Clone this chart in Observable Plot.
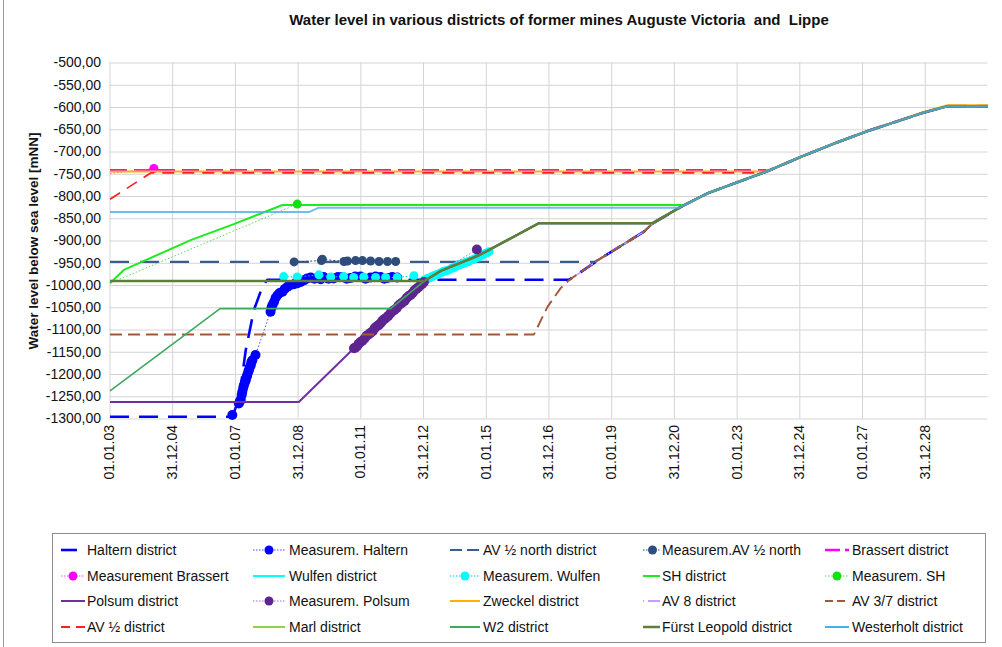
<!DOCTYPE html>
<html>
<head>
<meta charset="utf-8">
<script src="https://cdn.jsdelivr.net/npm/d3@7"></script>
<script src="https://cdn.jsdelivr.net/npm/@observablehq/plot@0.6"></script>
<style>
  body { margin: 0; background: #fff; font-family: "Liberation Sans", Arial, sans-serif; color: #111; }
  #wrap { position: relative; width: 1002px; height: 647px; overflow: hidden; background: #fff; }
  #frame { position: absolute; left: 3px; top: -2px; width: 1100px; height: 1000px; border-left: 1px solid #9a9a9a; }
  #chart { position: absolute; left: 0; top: 0; }
  #title { position: absolute; left: 559px; top: 11px; transform: translateX(-50%); white-space: nowrap; font-weight: bold; font-size: 15px; }
  #ylabel { position: absolute; left: 33px; top: 241px; transform: translate(-50%, -50%) rotate(-90deg); white-space: nowrap; font-weight: bold; font-size: 13.5px; }
  #legendBox { position: absolute; left: 52px; top: 533px; width: 932px; height: 108px; border: 1px solid #8c8c8c; }
  .item { position: absolute; height: 18px; display: flex; align-items: center; white-space: nowrap; font-size: 14px; }
  .item svg { flex: none; }
</style>
</head>
<body>
<div id="wrap">
  <div id="frame"></div>
  <div id="chart"></div>
  <div id="title">Water level in various districts of former mines Auguste Victoria&nbsp; and&nbsp; Lippe</div>
  <div id="ylabel">Water level below sea level [mNN]</div>
  <div id="legendBox"></div>
</div>
<script>
// ---------- data (decimal year, level in mNN) ----------
const tickDates = ["2003-01-01","2004-12-31","2007-01-01","2008-12-31","2011-01-01","2012-12-31","2015-01-01","2016-12-31","2019-01-01","2020-12-31","2023-01-01","2024-12-31","2027-01-01","2028-12-31"];
const levelTicks = [-500,-550,-600,-650,-700,-750,-800,-850,-900,-950,-1000,-1050,-1100,-1150,-1200,-1250,-1300];

// common final recovery curve shared by all districts
const commonRise = [[2017.80,-980],[2018.65,-939],[2020.03,-879],[2020.30,-861],[2021.26,-821],[2022.05,-793],[2023.97,-743],[2025.03,-711],[2026.09,-681],[2027.16,-653],[2028.96,-611],[2029.71,-597],[2031.00,-597]];

const halternHead = [[2003.00,-1295],[2006.90,-1295],[2007.06,-1265],[2007.17,-1227],[2007.33,-1145],[2007.59,-1055],[2007.86,-1003],[2008.02,-987],[2017.64,-987]];
const halternMeas = [[2006.90,-1291],[2007.11,-1265],[2007.14,-1260],[2007.17,-1257],[2007.20,-1246],[2007.22,-1239],[2007.25,-1230],[2007.27,-1224],[2007.30,-1218],[2007.33,-1213],[2007.36,-1205],[2007.38,-1201],[2007.41,-1194],[2007.43,-1190],[2007.46,-1183],[2007.49,-1179],[2007.51,-1172],[2007.54,-1168],[2007.64,-1156],[2008.12,-1059],[2008.15,-1050],[2008.18,-1044],[2008.23,-1037],[2008.28,-1028],[2008.34,-1022],[2008.41,-1017],[2008.50,-1014],[2008.57,-1008],[2008.66,-1003],[2008.76,-999],[2008.87,-997],[2008.98,-995],[2009.08,-992],[2009.19,-988],[2009.29,-984],[2009.40,-982],[2009.52,-985],[2009.61,-983],[2009.72,-986],[2009.81,-981],[2009.97,-985],[2010.13,-984],[2010.27,-981],[2010.41,-981],[2010.55,-985],[2010.67,-983],[2010.82,-980],[2010.99,-980],[2011.15,-985],[2011.31,-982],[2011.47,-980],[2011.63,-981],[2011.75,-985],[2011.85,-983],[2012.00,-981],[2012.16,-982]];
const avNorthHead = [[2003.00,-947],[2018.44,-947]];
const avNorthMeas = [[2008.87,-947],[2009.74,-944],[2009.77,-941],[2010.46,-946],[2010.57,-945],[2010.83,-944],[2011.05,-944],[2011.31,-945],[2011.58,-946],[2011.85,-946],[2012.11,-946]];
const brassertHead = [[2003.00,-741],[2023.90,-741]];
const brassertMeas = [[2003.00,-748],[2004.40,-737]];
const wulfenHead = [[2003.00,-990],[2013.01,-990],[2013.55,-967],[2014.77,-932],[2015.78,-894],[2016.68,-860],[2020.30,-860]];
const wulfenMeas = [[2008.54,-980],[2008.97,-981],[2009.66,-976],[2010.04,-981],[2010.45,-980],[2010.77,-982],[2011.09,-981],[2011.47,-982],[2011.79,-982],[2012.16,-982],[2012.69,-978],[2013.01,-988],[2013.10,-985],[2013.16,-984],[2013.24,-981],[2013.32,-978],[2013.40,-976],[2013.48,-974],[2013.56,-971],[2013.64,-968],[2013.72,-967],[2013.80,-965],[2013.88,-962],[2013.96,-960],[2014.04,-957],[2014.12,-954],[2014.20,-952],[2014.28,-950],[2014.36,-948],[2014.44,-946],[2014.52,-943],[2014.61,-941],[2014.68,-938],[2014.76,-936],[2014.84,-933],[2014.92,-930],[2015.00,-927],[2015.09,-924]];
const shHead = [[2003.00,-995],[2003.44,-965],[2005.57,-898],[2006.95,-862],[2008.50,-819],[2021.20,-819]];
const shMeas = [[2003.00,-995],[2008.97,-817]];
const polsumHead = [[2003.00,-1262],[2009.02,-1262],[2010.78,-1141],[2013.01,-991],[2013.55,-967],[2014.77,-932],[2015.78,-894],[2016.68,-860],[2020.30,-860]];
const polsumMeas = [[2010.78,-1141],[2010.82,-1140],[2010.87,-1137],[2010.93,-1131],[2010.99,-1127],[2011.05,-1124],[2011.12,-1119],[2011.18,-1113],[2011.25,-1110],[2011.31,-1106],[2011.38,-1103],[2011.44,-1096],[2011.50,-1092],[2011.57,-1089],[2011.63,-1085],[2011.69,-1079],[2011.76,-1075],[2011.82,-1072],[2011.88,-1068],[2011.95,-1062],[2012.01,-1058],[2012.07,-1055],[2012.14,-1051],[2012.20,-1045],[2012.27,-1041],[2012.33,-1038],[2012.40,-1034],[2012.46,-1028],[2012.52,-1024],[2012.59,-1021],[2012.65,-1017],[2012.71,-1011],[2012.78,-1007],[2012.84,-1004],[2012.91,-999],[2012.96,-996],[2013.01,-992],[2014.70,-919]];
const zweckel = [[2003.00,-744],[2023.92,-744],[2025.03,-711],[2026.09,-681],[2027.16,-653],[2028.96,-610],[2029.71,-595],[2031.00,-595]];
const av8Head = [[2017.80,-980]];
const av37Head = [[2003.00,-1110],[2016.52,-1110],[2016.95,-1048],[2017.37,-1006],[2017.64,-988]];
const avHalfHead = [[2003.00,-806],[2004.30,-747],[2023.88,-747]];
const marlHead = [[2021.26,-821]];
const w2Head = [[2003.00,-1237],[2006.51,-1052],[2011.95,-1052],[2013.01,-991],[2013.55,-967],[2014.77,-932],[2015.78,-894],[2016.68,-860],[2020.30,-860]];
const fuerstHead = [[2003.00,-990],[2013.01,-990],[2013.55,-967],[2014.77,-932],[2015.78,-894],[2016.68,-860],[2020.30,-860]];
const westerholtHead = [[2003.00,-835],[2009.34,-835],[2009.66,-825],[2021.15,-825]];

// ---------- helpers ----------
const withRise = head => head.concat(commonRise.filter(p => p[0] > head[head.length - 1][0]));
function yearToDate(v) {
  const y = Math.floor(v), a = Date.UTC(y, 0, 1), b = Date.UTC(y + 1, 0, 1);
  return new Date(a + (v - y) * (b - a));
}
const rows = arr => arr.map(([t, v]) => ({date: yearToDate(t), level: v}));

// series in drawing (legend) order; styles kept separate from values
const series = [
  {name: "Haltern district",       data: withRise(halternHead), color: "#0000FF", w: 2.6, dash: "19,10", lg: {dash: "16,9"}},
  {name: "Measurem. Haltern",      data: halternMeas, color: "#0000FF", line: "#4D4DFF", w: 1, dash: "1.5,2", r: 5},
  {name: "AV ½ north district",    data: withRise(avNorthHead), color: "#3E5C8A", w: 2.2, dash: "19,11", lg: {dash: "12,5"}},
  {name: "Measurem.AV ½ north",    data: avNorthMeas, color: "#2E4D7C", line: "#2E4D7C", w: 1, dash: "2,2", r: 4.5},
  {name: "Brassert district",      data: withRise(brassertHead), color: "#FF00FF", w: 2.5, dash: "17,7", lg: {dash: "15,5"}},
  {name: "Measurement Brassert",   data: brassertMeas, color: "#FF00FF", line: "#FF44FF", w: 1, dash: "1.5,2", r: 4.5, skipFirst: true},
  {name: "Wulfen district",        data: withRise(wulfenHead), color: "#00FFFF", w: 2},
  {name: "Measurem. Wulfen",       data: wulfenMeas, color: "#00FFFF", line: "#00CCCC", w: 1, dash: "1.5,2", r: 4.5},
  {name: "SH district",            data: withRise(shHead), color: "#1EEB1E", w: 2},
  {name: "Measurem. SH",           data: shMeas, color: "#10E010", line: "#55DD55", w: 1, dash: "1.5,2", r: 4.5, skipFirst: true},
  {name: "Polsum district",        data: withRise(polsumHead), color: "#7030A0", w: 2},
  {name: "Measurem. Polsum",       data: polsumMeas, color: "#5E2590", line: "#A070D0", w: 1, dash: "1.5,2", r: 5},
  {name: "Zweckel district",       data: zweckel, color: "#FFB000", w: 2},
  {name: "AV 8 district",          data: withRise(av8Head), color: "#CC99FF", w: 1.5, dash: "8,3,1,3", lg: {dash: "1,4,12,3"}},
  {name: "AV 3/7 district",        data: withRise(av37Head), color: "#A5573A", w: 1.9, dash: "12,6", lg: {dash: "8,4"}},
  {name: "AV ½ district",          data: withRise(avHalfHead), color: "#FF2020", w: 1.7, dash: "12,8", lg: {dash: "9,6"}},
  {name: "Marl district",          data: withRise(marlHead), color: "#92D050", w: 2},
  {name: "W2 district",            data: withRise(w2Head), color: "#3DAA5C", w: 1.6},
  {name: "Fürst Leopold district", data: withRise(fuerstHead), color: "#5F7F38", w: 2.5},
  {name: "Westerholt district",    data: withRise(westerholtHead), color: "#4AAEE8", w: 2, op: 0.8}
];

// ---------- plot ----------
const xTicks = tickDates.map(d => new Date(d + "T00:00:00Z"));
const marks = [
  Plot.gridY(levelTicks, {stroke: "#d4d4d4", strokeOpacity: 1, strokeWidth: 1}),
  Plot.gridX(xTicks, {stroke: "#d4d4d4", strokeOpacity: 1, strokeWidth: 1}),
  Plot.axisY(levelTicks, {tickSize: 0, tickPadding: 9, tickFormat: d => d.toFixed(2).replace(".", ","), label: null, fill: "#111"}),
  Plot.axisX(xTicks, {tickSize: 0, tickPadding: 6, tickRotate: -90, tickFormat: d3.utcFormat("%d.%m.%y"), label: null, fill: "#111"})
];
for (const s of series) {
  const d = rows(s.data);
  marks.push(Plot.line(d, {x: "date", y: "level", stroke: s.line || s.color, strokeWidth: s.w, strokeDasharray: s.dash || null, strokeOpacity: s.op || 1, strokeLinejoin: "round", strokeLinecap: "butt"}));
  if (s.r) marks.push(Plot.dot(s.skipFirst ? d.slice(1) : d, {x: "date", y: "level", r: s.r, fill: s.color, stroke: "none"}));
}

const chart = Plot.plot({
  width: 1002,
  height: 530,
  marginLeft: 109.5,
  marginRight: 14.5,
  marginTop: 62.5,
  marginBottom: 111.5,
  style: {fontFamily: "'Liberation Sans', Arial, sans-serif", fontSize: "14px", background: "transparent", overflow: "visible"},
  x: {type: "utc", domain: [new Date("2003-01-01T00:00:00Z"), new Date("2031-01-01T00:00:00Z")]},
  y: {domain: [-1300, -500]},
  marks
});
document.getElementById("chart").appendChild(chart);

// ---------- legend ----------
const colSample = [61, 253, 450, 643, 825];
const colSampleW = [24, 32, 30, 17, 24];
const colText = [87, 289, 483, 662, 852];
const rowY = [550, 575.5, 601, 627];
const wrap = document.getElementById("wrap");
series.forEach((s, i) => {
  const c = i % 5, r = Math.floor(i / 5);
  const div = document.createElement("div");
  div.className = "item";
  div.style.left = colSample[c] + "px";
  div.style.top = (rowY[r] - 9) + "px";
  const w = colSampleW[c];
  const ns = "http://www.w3.org/2000/svg";
  const svg = document.createElementNS(ns, "svg");
  svg.setAttribute("width", w); svg.setAttribute("height", 18);
  const ln = document.createElementNS(ns, "line");
  ln.setAttribute("x1", 0); ln.setAttribute("x2", w); ln.setAttribute("y1", 9); ln.setAttribute("y2", 9);
  ln.setAttribute("stroke", s.line || s.color);
  ln.setAttribute("stroke-width", Math.max(s.w, 2));
  const dash = (s.lg && s.lg.dash) || s.dash;
  if (dash) ln.setAttribute("stroke-dasharray", s.r ? "1.5,1.5" : dash);
  if (s.r) ln.setAttribute("stroke-width", 1.2);
  svg.appendChild(ln);
  if (s.r) {
    const ci = document.createElementNS(ns, "circle");
    ci.setAttribute("cx", w / 2 + (c === 3 ? 1 : 0)); ci.setAttribute("cy", 9); ci.setAttribute("r", 4.5);
    ci.setAttribute("fill", s.color);
    svg.appendChild(ci);
  }
  div.appendChild(svg);
  const span = document.createElement("span");
  span.textContent = s.name;
  span.style.marginLeft = (colText[c] - colSample[c] - w) + "px";
  div.appendChild(span);
  wrap.appendChild(div);
});
</script>
</body>
</html>
